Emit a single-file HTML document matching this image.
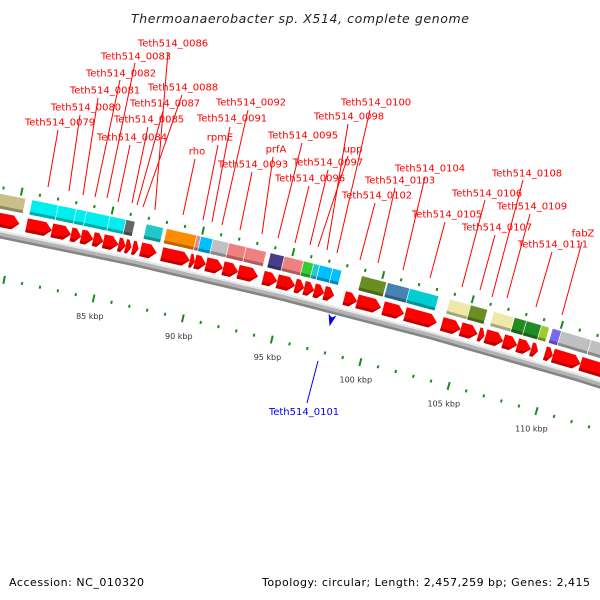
<!DOCTYPE html>
<html><head><meta charset="utf-8">
<style>
html,body{margin:0;padding:0;background:#fff;}
svg{display:block;font-family:"DejaVu Sans","Liberation Sans",sans-serif;}
</style></head>
<body>
<svg id="map" width="600" height="600" viewBox="0 0 600 600">
<rect x="0" y="0" width="600" height="600" fill="#fff"/>
<text x="300" y="23" text-anchor="middle" font-size="12.5" font-style="italic" fill="#222" textLength="338">Thermoanaerobacter sp. X514, complete genome</text>
<text x="9" y="586" font-size="11" fill="#000" textLength="135">Accession: NC_010320</text>
<text x="590" y="586" text-anchor="end" font-size="11" fill="#000" textLength="328">Topology: circular; Length: 2,457,259 bp; Genes: 2,415</text>
<g id="layer"></g>
</svg>
<script>
// ---- data ----
const geneStarts = [77.49,80.61,82.01,83.07,83.63,84.30,84.86,85.70,86.09,86.48,86.93,88.10,89.66,89.94,90.56,91.51,92.35,93.74,94.53,95.53,96.03,96.59,97.15,98.27,98.99,100.45,101.68,103.74,104.80,105.81,106.20,107.20,107.99,108.77,109.55,110.00,111.56];
const geneEnds   = [80.22,82.01,83.07,83.63,84.30,84.86,85.70,86.09,86.42,86.82,87.82,89.66,89.94,90.56,91.51,92.35,93.46,94.53,95.53,96.03,96.59,97.15,97.71,98.99,100.33,101.62,103.46,104.80,105.75,106.14,107.20,107.99,108.77,109.16,110.00,111.56,113.80];
const cogStarts = [77.27,80.63,82.08,83.08,83.64,84.93,85.82,86.94,88.06,89.73,89.96,90.63,91.52,92.47,93.81,94.59,95.66,96.22,96.55,97.28,98.89,100.34,101.57,103.80,104.98,106.27,107.44,108.11,108.95,109.57,110.07,111.75];
const cogEnds   = [80.29,82.08,83.08,83.64,84.93,85.82,86.32,87.89,89.73,89.96,90.63,91.52,92.47,93.59,94.59,95.66,96.22,96.55,97.28,97.78,100.28,101.57,103.19,104.98,105.93,107.44,108.11,108.95,109.40,110.07,111.75,113.60];
const cogColors = ["#c8c088","#00eeee","#00eeee","#00eeee","#00eeee","#00eeee","#666666","#20c8c8","#ff8c00","#e88a8a","#00bfff","#c0c0c0","#f08080","#f08080","#483d8b","#f08080","#32cd32","#20cdcd","#00bfff","#00bfff","#6b8e23","#4682b4","#00ced1","#eee8aa","#6b8e23","#eee8aa","#228b22","#228b22","#9acd32","#7b68ee","#c0c0c0","#c0c0c0"];
const tickValues = [85,90,95,100,105,110];
const tickLabels = ["85 kbp","90 kbp","95 kbp","100 kbp","105 kbp","110 kbp"];
const rulerMin = 77, rulerMax = 114;
const labelText = ["Teth514_0079","Teth514_0080","Teth514_0081","Teth514_0082","Teth514_0083","Teth514_0086","Teth514_0088","Teth514_0087","Teth514_0085","Teth514_0084","rho","rpmE","Teth514_0091","Teth514_0092","Teth514_0093","prfA","Teth514_0095","Teth514_0096","Teth514_0097","upp","Teth514_0098","Teth514_0100","Teth514_0102","Teth514_0103","Teth514_0104","Teth514_0105","Teth514_0106","Teth514_0107","Teth514_0108","Teth514_0109","Teth514_0111","fabZ"];
const labelPos = [[60,122,58,130,48,187],[86,107,80,115,69,191],[105,90,98,98,83,195],[121,73,120,80,95,197],[136,56,135,63,107,198],[173,43,168,52,155,210],[183,87,182,95,143,207],[165,103,163,111,137,205],[149,119,148,127,132,203],[132,137,130,145,118,202],[197,151,195,159,183,215],[220,137,218,145,203,220],[232,118,230,127,212,222],[251,102,248,110,222,225],[253,164,252,172,240,230],[276,149,273,157,262,234],[303,135,302,143,278,238],[310,178,309,186,295,243],[328,162,328,170,310,245],[353,149,348,156,318,247],[349,116,348,124,327,250],[376,102,370,110,337,253],[377,195,375,203,360,260],[400,180,395,188,378,263],[430,168,425,177,403,270],[447,214,445,222,430,278],[487,193,485,200,462,287],[497,227,495,235,480,290],[527,173,523,180,492,297],[532,206,530,214,507,298],[553,244,552,252,536,307],[583,233,582,242,562,315]];
const markerKbp = 97.88;

// ---- geometry ----
const CX=-1193.2, CY=6280.6, R=6164;
const A0=-77.86, DEG_PER_KBP=0.1712;
function ang(k){return (A0+(k-85)*DEG_PER_KBP)*Math.PI/180;}
function pt(k,r){const a=ang(k);return [CX+r*Math.cos(a),CY+r*Math.sin(a)];}
function P(arr){return arr.map(p=>p[0].toFixed(2)+","+p[1].toFixed(2)).join(" ");}
const NS="http://www.w3.org/2000/svg";
const layer=document.getElementById("layer");
function mk(tag,attrs,parent){const e=document.createElementNS(NS,tag);for(const k in attrs)e.setAttribute(k,attrs[k]);(parent||layer).appendChild(e);return e;}
function sector(k1,k2,r1,r2){const pts=[];const n=6;for(let i=0;i<=n;i++)pts.push(pt(k1+(k2-k1)*i/n,r2));for(let i=n;i>=0;i--)pts.push(pt(k1+(k2-k1)*i/n,r1));return P(pts);}
function shade(hex,f){const n=parseInt(hex.slice(1),16);let r=(n>>16)&255,g=(n>>8)&255,b=n&255;r=Math.round(r*f);g=Math.round(g*f);b=Math.round(b*f);return "rgb("+r+","+g+","+b+")";}

// backbone
const bb=mk("g",{});


mk("polygon",{points:sector(70,120,R-5,R+3),fill:"#b4b4b4"},bb);
mk("polygon",{points:sector(70,120,R+1,R+3),fill:"#e8e8e8"},bb);
mk("polygon",{points:sector(70,120,R-5,R-2.5),fill:"#858585"},bb);

// genes
const gg=mk("g",{});


const rA1=R+6, rA2=R+20;
for(let i=0;i<geneStarts.length;i++){
  const k1=geneStarts[i],k2=geneEnds[i];
  const head=Math.min(0.38,(k2-k1)*0.55);
  const kh=k2-head;
  const pts=[pt(k1,rA2),pt(kh,rA2),pt(k2,(rA1+rA2)/2),pt(kh,rA1),pt(k1,rA1)];
  const a=mk("polygon",{points:P(pts),fill:"#ff0000"},gg);
  
  
  const sh=[pt(k1,rA1+3),pt(kh,rA1+3),pt(k2-head*0.2,(rA1+rA2)/2-0.5),pt(k2,(rA1+rA2)/2),pt(kh,rA1),pt(k1,rA1)];
  mk("polygon",{points:P(sh),fill:"#c00000"},gg);
}

// COG boxes
const cg=mk("g",{});


const rB1=R+24, rB2=R+39;
for(let i=0;i<cogStarts.length;i++){
  const b=mk("polygon",{points:sector(cogStarts[i],cogEnds[i],rB1,rB2),fill:cogColors[i],stroke:"#fff","stroke-width":"0.6"},cg);
  
  
  mk("polygon",{points:sector(cogStarts[i]+0.02,cogEnds[i]-0.02,rB1,rB1+3),fill:shade(cogColors[i],0.72)},cg);
}

// rulers
const rg=mk("g",{});


for(let k=rulerMin;k<=rulerMax;k++){
  const big=(k%5===0);
  const L=big?4:1.5;
  [R+45,R-45].forEach(rc=>{
    const p1=pt(k,rc-L),p2=pt(k,rc+L);
    const t=mk("line",{x1:p1[0],y1:p1[1],x2:p2[0],y2:p2[1],stroke:"#1a8a1a","stroke-width":"2"},rg);
    
    
  });
}
for(let i=0;i<tickValues.length;i++){
  const p=pt(tickValues[i],R-63);
  const t=mk("text",{x:p[0],y:p[1]+3,"text-anchor":"middle","font-size":"8",fill:"#333"},rg);
  t.textContent=tickLabels[i];
  
  
}

// labels
const lg=mk("g",{});


for(let i=0;i<labelText.length;i++){
  const d=labelPos[i];
  const ln=mk("line",{x1:d[2],y1:d[3],x2:d[4],y2:d[5],stroke:"#ff0000","stroke-width":"1"},lg);
  
  
  const t=mk("text",{x:d[0],y:d[1]+3.6,"text-anchor":"middle","font-size":"10",fill:"#ff0000"},lg);
  t.textContent=labelText[i];
  
  
}

// blue marker
const mg=mk("g",{});


const tip=pt(markerKbp,R-18), bl=pt(markerKbp-0.22,R-6), br=pt(markerKbp+0.22,R-6), mid=pt(markerKbp,R-9);
const tri=mk("polygon",{points:P([bl,mid,br,tip]),fill:"#0000ee"},mg);


const bln=mk("line",{x1:318,y1:361,x2:307,y2:403,stroke:"#0000ff","stroke-width":"1"},mg);


const bt=mk("text",{x:304,y:415,"text-anchor":"middle","font-size":"10",fill:"#0000ff"},mg);
bt.textContent="Teth514_0101";


</script>
</body></html>
